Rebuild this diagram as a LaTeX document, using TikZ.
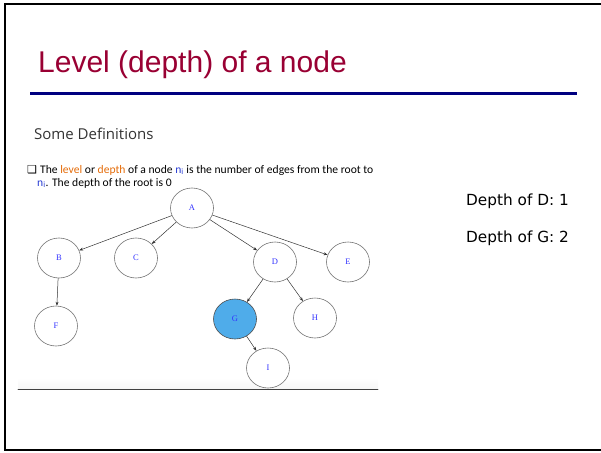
\documentclass[tikz,border=0pt]{standalone}
\usepackage{fontspec}
\setmainfont{Liberation Sans}
\newfontfamily\slidefont{Open Sans}
\newfontfamily\bodyfont{Carlito}
\newfontfamily\notefont{DejaVu Sans}
\newfontfamily\treefont{Liberation Serif}
\usetikzlibrary{shapes.geometric,arrows.meta}
\definecolor{titlered}{RGB}{153,0,51}
\definecolor{rulenavy}{RGB}{0,0,128}
\definecolor{keyorange}{RGB}{228,108,10}
\definecolor{subblue}{RGB}{40,60,210}
\definecolor{labelblue}{RGB}{50,50,255}
\definecolor{gfill}{RGB}{79,172,234}
\tikzset{
  vertex/.style={ellipse,draw=black!55,fill=white,line width=0.6pt,minimum width=43pt,minimum height=40pt,inner sep=0pt,font=\treefont\fontsize{8.5}{10}\selectfont,text=labelblue},
  edge/.style={->,draw=black!80,line width=0.5pt},
  line/.style={anchor=base west,inner sep=0pt}
}
\begin{document}
\begin{tikzpicture}[x=1pt,y=-1pt,>={Stealth[length=4pt,width=3pt]},line cap=round]
\useasboundingbox (0,0) rectangle (601,452);
% frame of the slide
\draw[line width=2pt] (601,4) -- (5,4) -- (5,450) -- (601,450);
% heading and rule
\node[line,text=titlered,font=\fontsize{30}{36}\selectfont] (title) at (38,72) {Level (depth) of a node};
\fill[rulenavy] (30,91.5) rectangle (577,95);
\node[line,text=black!80,font=\slidefont\fontsize{15}{18}\selectfont] (sub) at (34,139) {Some Definitions};
% definition text
\node[line,font=\notefont\fontsize{11}{12}\selectfont] (bullet) at (27,173) {❑};
\node[line,font=\bodyfont\fontsize{11.6}{13}\selectfont] (def1) at (40,173) {The \textcolor{keyorange}{level} or \textcolor{keyorange}{depth} of a node \textcolor{subblue}{n\textsubscript{i}} is the number of edges from the root to};
\node[line,font=\bodyfont\fontsize{11.6}{13}\selectfont] (def2) at (37,186) {\textcolor{subblue}{n\textsubscript{i}}. The depth of the root is 0};
\node[line,font=\notefont\fontsize{15.3}{18}\selectfont] (depthD) at (466,205) {Depth of D: 1};
\node[line,font=\notefont\fontsize{15.3}{18}\selectfont] (depthG) at (466,242) {Depth of G: 2};
% base line under the tree
\shade[top color=white,bottom color=black!4] (18,378) rectangle (378,389);
\draw[black!75,line width=0.8pt] (18,389) -- (378,389);
% the tree
\foreach \n/\x/\y in {A/192/208,B/59/258,C/136/258,D/275/262,E/348/262,F/56/326,H/315/318,I/268/368}
  \node[vertex] (\n) at (\x,\y) {\n};
\node[vertex,fill=gfill,draw=black!70] (G) at (235,319) {G};
\foreach \a/\b in {A/B,A/C,A/D,A/E,B/F,D/G,D/H,G/I}
  \draw[edge] (\a) -- (\b);
\end{tikzpicture}
\end{document}
